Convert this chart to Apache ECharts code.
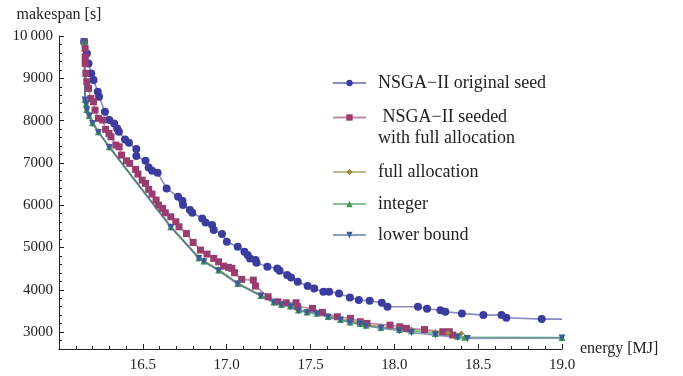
<!DOCTYPE html>
<html>
<head>
<meta charset="utf-8">
<script src="https://cdn.jsdelivr.net/npm/echarts@6/dist/echarts.min.js"></script>
<style>
html, body { margin: 0; padding: 0; background: #fff; }
#chart { width: 683px; height: 376px; }
</style>
</head>
<body>
<div id="chart"></div>
<script>
// NSGA-II original seed
var origEnergy = [16.15, 16.166, 16.176, 16.192, 16.206, 16.231, 16.239, 16.274, 16.30, 16.329, 16.347, 16.357,
  16.394, 16.417, 16.461, 16.461, 16.516, 16.535, 16.555, 16.588, 16.642, 16.71, 16.736, 16.74, 16.781, 16.795,
  16.854, 16.874, 16.913, 16.923, 16.972, 17.001, 17.066, 17.106, 17.125, 17.139, 17.172, 17.178, 17.243, 17.302,
  17.316, 17.361, 17.384, 17.424, 17.483, 17.522, 17.577, 17.611, 17.67, 17.735, 17.788, 17.853, 17.925, 17.959,
  18.141, 18.195, 18.275, 18.304, 18.403, 18.531, 18.639, 18.668, 18.879, 19.0];
var origMakespan = [9863, 9589, 9352, 9116, 8957, 8681, 8563, 8208, 8012, 7934, 7816, 7735,
  7555, 7475, 7326, 7161, 7050, 6894, 6813, 6766, 6397, 6199, 6104, 6002, 5884, 5820,
  5688, 5593, 5530, 5411, 5317, 5135, 5017, 4898, 4820, 4742, 4702, 4638, 4544, 4506,
  4450, 4348, 4293, 4190, 4088, 4033, 3953, 3953, 3915, 3820, 3756, 3740, 3693, 3598,
  3598, 3550, 3515, 3480, 3442, 3402, 3402, 3338, 3307, 3307];

// NSGA-II seeded with full allocation
var seedEnergy = [16.15, 16.156, 16.156, 16.156, 16.16, 16.166, 16.176, 16.19, 16.206, 16.215, 16.235, 16.261,
  16.278, 16.298, 16.31, 16.339, 16.359, 16.373, 16.402, 16.422, 16.457, 16.471, 16.496, 16.516, 16.535, 16.555,
  16.579, 16.594, 16.618, 16.634, 16.667, 16.697, 16.716, 16.76, 16.80, 16.844, 16.883, 16.923, 16.952, 16.982,
  17.011, 17.031, 17.047, 17.09, 17.159, 17.172, 17.247, 17.306, 17.355, 17.414, 17.424, 17.512, 17.571, 17.66,
  17.738, 17.797, 17.837, 17.974, 18.033, 18.073, 18.18, 18.289, 18.328, 18.348];
var seedMakespan = [9863, 9707, 9509, 9352, 9116, 8917, 8760, 8523, 8445, 8248, 8052, 8012,
  7792, 7697, 7618, 7421, 7381, 7184, 7050, 6988, 6846, 6735, 6593, 6515, 6374, 6262,
  6121, 6002, 5924, 5820, 5726, 5608, 5489, 5330, 5120, 4939, 4844, 4742, 4662, 4560,
  4530, 4506, 4402, 4246, 4229, 4088, 3835, 3716, 3693, 3693, 3598, 3560, 3466, 3362,
  3324, 3244, 3206, 3165, 3125, 3087, 3060, 3008, 3008, 2929];

// full allocation
var fullEnergy = [16.15, 16.155, 16.162, 16.166, 16.18, 16.2, 16.235, 16.3, 16.667, 16.834, 16.864, 16.952,
  17.066, 17.204, 17.282, 17.326, 17.38, 17.428, 17.479, 17.538, 17.605, 17.679, 17.735, 17.797, 17.831,
  17.92, 18.03, 18.102, 18.245, 18.32, 18.40];
var fullMakespan = [9863, 8510, 8410, 8270, 8130, 7960, 7745, 7390, 5500, 4770, 4690, 4480,
  4160, 3875, 3720, 3665, 3625, 3535, 3490, 3460, 3380, 3320, 3255, 3220, 3175,
  3130, 3080, 3060, 3000, 2985, 2965];

// integer
var intEnergy = [16.15, 16.155, 16.162, 16.166, 16.18, 16.2, 16.235, 16.3, 16.667, 16.834, 16.864, 16.952,
  17.066, 17.204, 17.282, 17.326, 17.38, 17.428, 17.479, 17.538, 17.605, 17.679, 17.735, 17.797, 17.831,
  17.92, 18.03, 18.102, 18.245, 18.377, 18.42, 19.0];
var intMakespan = [9863, 8500, 8400, 8260, 8120, 7950, 7735, 7380, 5490, 4760, 4680, 4470,
  4150, 3865, 3710, 3655, 3615, 3525, 3475, 3445, 3368, 3300, 3240, 3205, 3160,
  3110, 3060, 3030, 2965, 2900, 2880, 2870];

// lower bound
var lowEnergy = [16.15, 16.155, 16.162, 16.166, 16.18, 16.2, 16.235, 16.3, 16.667, 16.834, 16.864, 16.952,
  17.066, 17.204, 17.282, 17.326, 17.38, 17.428, 17.479, 17.538, 17.605, 17.679, 17.735, 17.797, 17.831,
  17.92, 18.029, 18.102, 18.245, 18.377, 18.436, 19.0];
var lowMakespan = [9863, 8485, 8390, 8248, 8106, 7934, 7721, 7366, 5475, 4742, 4662, 4450,
  4135, 3851, 3693, 3638, 3598, 3504, 3456, 3426, 3348, 3284, 3220, 3189, 3142,
  3090, 3031, 2993, 2929, 2875, 2851, 2860];

var seriesNames = ['NSGA\u2212II original seed', ' NSGA\u2212II seeded\nwith full allocation',
  'full allocation', 'integer', 'lower bound'];
var yMajor = [3000, 4000, 5000, 6000, 7000, 8000, 9000, 10000];

function pairs(xs, ys) {
  return xs.map(function (x, i) { return [x, ys[i]]; });
}

var font = '"Liberation Serif", "Times New Roman", "DejaVu Serif", serif';
var axisColor = '#222';

function mkSeries(name, xs, ys, color, symbol, size, rotate) {
  return {
    name: name,
    type: 'line',
    data: pairs(xs, ys),
    symbol: symbol,
    symbolSize: size,
    symbolRotate: rotate || 0,
    showSymbol: true,
    animation: false,
    itemStyle: { color: color, opacity: 1 },
    lineStyle: { color: color, width: 1.6, opacity: 0.6 }
  };
}

var legendTops = [72.5, 86, 161.5, 193.5, 224.5];
var legends = seriesNames.map(function (n, i) {
  var lg = {
    data: [n],
    left: 332,
    top: legendTops[i],
    padding: 0,
    itemWidth: 33,
    itemHeight: 8,
    selectedMode: false,
    textStyle: { fontFamily: font, fontSize: 18, color: '#222', lineHeight: 21, padding: [0, 0, 0, 7] }
  };
  // two-line entry: leading empty line keeps the marker level with the first text line
  if (i === 1) lg.formatter = function (name) { return '\n' + name; };
  return lg;
});

var chart = echarts.init(document.getElementById('chart'));
chart.setOption({
  backgroundColor: '#fff',
  animation: false,
  grid: { left: 59, right: 121, top: 36, bottom: 27 },
  legend: legends,
  xAxis: {
    type: 'value',
    min: 16, max: 19, interval: 0.5,
    name: 'energy [MJ]',
    nameLocation: 'end',
    nameGap: 18,
    nameTextStyle: { fontFamily: font, fontSize: 16, color: '#222', verticalAlign: 'middle' },
    axisLine: { onZero: false, lineStyle: { color: axisColor, width: 1 } },
    axisTick: { inside: true, length: 5, lineStyle: { color: axisColor } },
    minorTick: { show: true, splitNumber: 5, length: 3, lineStyle: { color: axisColor } },
    splitLine: { show: false },
    axisLabel: {
      margin: 9,
      fontFamily: font, fontSize: 15, color: '#222',
      formatter: function (v) { return v === 16 ? '' : v.toFixed(1); }
    }
  },
  yAxis: [{
    type: 'value',
    min: 2600, max: 10000, interval: 200,
    name: 'makespan [s]',
    nameLocation: 'end',
    nameGap: 21,
    nameTextStyle: { fontFamily: font, fontSize: 16, color: '#222', align: 'center', verticalAlign: 'middle' },
    axisLine: { show: true, onZero: false, lineStyle: { color: axisColor, width: 1 } },
    axisTick: { inside: true, length: 3, lineStyle: { color: axisColor } },
    splitLine: { show: false },
    axisLabel: {
      margin: 6,
      fontFamily: font, fontSize: 15, color: '#222',
      formatter: function (v) {
        if (v % 1000 !== 0) return '';
        return v === 10000 ? '10\u2009000' : String(v);
      }
    }
  }, {
    type: 'value',
    position: 'left',
    min: 2600, max: 10000,
    axisLine: { show: false },
    axisLabel: { show: false },
    splitLine: { show: false },
    axisTick: { show: true, inside: true, length: 5, customValues: yMajor, lineStyle: { color: axisColor } }
  }],
  series: [
    mkSeries(seriesNames[0], origEnergy, origMakespan, '#3c3c9e', 'circle', function (v) { return v[0] >= 19 ? 0 : 8; }),
    mkSeries(seriesNames[1], seedEnergy, seedMakespan, '#993d71', 'rect', 7),
    mkSeries(seriesNames[2], fullEnergy, fullMakespan, '#998b3d', 'diamond', 6),
    mkSeries(seriesNames[3], intEnergy, intMakespan, '#3d9954', 'triangle', 7),
    mkSeries(seriesNames[4], lowEnergy, lowMakespan, '#3d5a99', 'triangle', 7, 180)
  ]
});
</script>
</body>
</html>
